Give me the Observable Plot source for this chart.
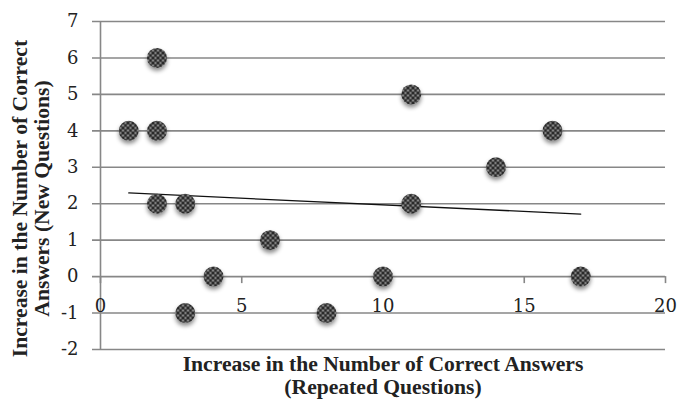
<!DOCTYPE html>
<html>
<head>
<meta charset="utf-8">
<script src="https://cdn.jsdelivr.net/npm/d3@7"></script>
<script src="https://cdn.jsdelivr.net/npm/@observablehq/plot@0.6"></script>
<style>
  html, body { margin: 0; padding: 0; background: #fff; }
  #chart svg g[aria-label="dot"] circle { filter: url(#dotShadow); }
</style>
</head>
<body>
<!-- fill pattern and shadow for the markers -->
<svg width="0" height="0" style="position:absolute">
  <defs>
    <pattern id="dotPattern" patternUnits="userSpaceOnUse" width="5" height="5">
      <rect width="5" height="5" fill="#8a8a8a"/>
      <circle cx="2.5" cy="0" r="1.0" fill="#c8c8c8"/>
      <circle cx="0" cy="2.5" r="1.0" fill="#c8c8c8"/>
      <circle cx="5" cy="2.5" r="1.0" fill="#c8c8c8"/>
      <circle cx="2.5" cy="5" r="1.0" fill="#c8c8c8"/>
      <circle cx="0" cy="0" r="1.7" fill="#262626"/>
      <circle cx="5" cy="0" r="1.7" fill="#262626"/>
      <circle cx="0" cy="5" r="1.7" fill="#262626"/>
      <circle cx="5" cy="5" r="1.7" fill="#262626"/>
      <circle cx="2.5" cy="2.5" r="1.7" fill="#262626"/>
    </pattern>
    <filter id="dotShadow" x="-50%" y="-50%" width="200%" height="200%">
      <feDropShadow dx="0" dy="3" stdDeviation="2" flood-color="#000" flood-opacity="0.45"/>
    </filter>
  </defs>
</svg>
<div id="chart"></div>
<script>
// Increase in correct answers: repeated questions (x) vs new questions (y)
const repeatedGain = [1, 2, 2, 2, 3, 3, 4, 6, 8, 10, 11, 11, 14, 16, 17];
const newGain      = [4, 6, 4, 2, 2, -1, 0, 1, -1, 0, 5, 2, 3, 4, 0];

const xTicks = [0, 5, 10, 15, 20];
const yTicks = [-2, -1, 0, 1, 2, 3, 4, 5, 6, 7];

const xTitle = "Increase in the Number of Correct Answers\n(Repeated Questions)";
const yTitle = "Increase in the Number of Correct\nAnswers (New Questions)";

const points = repeatedGain.map((x, i) => ({x, y: newGain[i]}));

const width = 678, height = 401;
const margin = {top: 21, right: 13, bottom: 52, left: 100};
const xDomain = [0, 20], yDomain = [-2, 7];

// the horizontal axis crosses at y = 0, so shift the bottom axis up to it
const frameH = height - margin.top - margin.bottom;
const axisShift = -frameH * (0 - yDomain[0]) / (yDomain[1] - yDomain[0]);

const grid = "#878787";
const serif = "Liberation Serif";
const plain = d => String(d);

const chart = Plot.plot({
  width, height,
  marginTop: margin.top, marginRight: margin.right,
  marginBottom: margin.bottom, marginLeft: margin.left,
  style: {fontFamily: "DejaVu Serif", fontSize: "18px", background: "#fff", color: "#222"},
  x: {domain: xDomain, ticks: xTicks},
  y: {domain: yDomain, ticks: yTicks},
  marks: [
    Plot.ruleY(yTicks, {stroke: grid, strokeWidth: 1.6, insetLeft: -8}),
    Plot.ruleX([0], {stroke: grid, strokeWidth: 1.6}),
    Plot.axisX(xTicks, {
      anchor: "bottom", dy: axisShift, tickSize: 7, tickPadding: 16, tickFormat: plain,
      stroke: grid, strokeWidth: 1.6, fill: "#222", fontSize: 18, label: null
    }),
    Plot.axisY(yTicks, {
      anchor: "left", tickSize: 0, tickPadding: 22, tickFormat: plain,
      fill: "#222", fontSize: 18, label: null
    }),
    Plot.linearRegressionY(points, {x: "x", y: "y", ci: 0, stroke: "#111", strokeWidth: 1.3}),
    Plot.dot(points, {x: "x", y: "y", r: 10, fill: "url(#dotPattern)", stroke: "none"}),
    Plot.text([xTitle], {
      text: d => d, frameAnchor: "bottom", lineAnchor: "top", dy: 5,
      fontFamily: serif, fontWeight: "bold", fontSize: 21.6,
      lineHeight: 1.07, fill: "#222"
    }),
    Plot.text([yTitle], {
      text: d => d, frameAnchor: "left", rotate: -90, dx: -70, dy: 13,
      textAnchor: "middle", lineAnchor: "middle", fontFamily: serif, fontWeight: "bold",
      fontSize: 21.6, lineHeight: 1.02, fill: "#222"
    })
  ]
});

document.getElementById("chart").appendChild(chart);
</script>
</body>
</html>
